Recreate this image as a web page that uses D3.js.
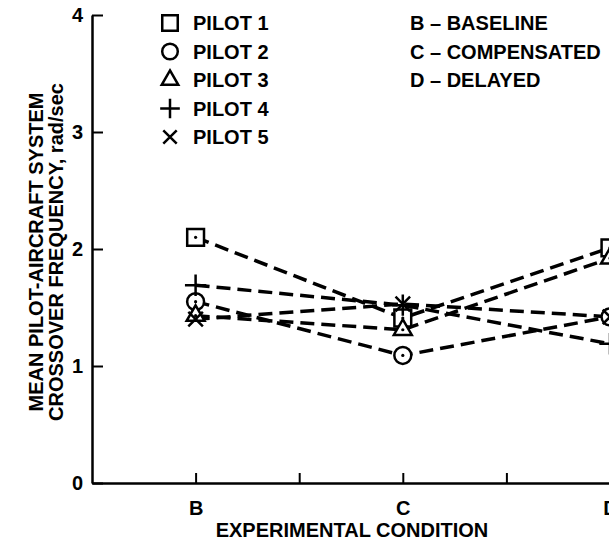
<!DOCTYPE html>
<html>
<head>
<meta charset="utf-8">
<script src="https://cdn.jsdelivr.net/npm/d3@7"></script>
<style>
  body { margin: 0; background: #fff; }
  text { font-family: "Liberation Sans", Arial, sans-serif; font-weight: bold; fill: #000; }
</style>
</head>
<body>
<svg width="609" height="541"></svg>
<script>
// conditions on the x axis (position on a 0..5 scale)
var conditions = ["B", "C", "D"];
var conditionPos = [1, 3, 5];
var xTicks = [1, 2, 3, 4, 5];
var yTicks = [0, 1, 2, 3, 4];

var pilots = ["PILOT 1", "PILOT 2", "PILOT 3", "PILOT 4", "PILOT 5"];
var pilot1 = [2.10, 1.41, 2.01];
var pilot2 = [1.55, 1.09, 1.42];
var pilot3 = [1.43, 1.31, 1.92];
var pilot4 = [1.69, 1.52, 1.19];
var pilot5 = [1.40, 1.53, 1.42];

var conditionNames = ["B \u2013 BASELINE", "C \u2013 COMPENSATED", "D \u2013 DELAYED"];

var svg = d3.select("svg"),
    width = +svg.attr("width"),
    height = +svg.attr("height");

var x = d3.scaleLinear().domain([0, 5]).range([92, 610]);
var y = d3.scaleLinear().domain([0, 4]).range([483, 15]);

var fs = 20;

// axes
var yAxis = svg.append("g")
  .attr("transform", "translate(" + x(0) + ",0)")
  .call(d3.axisLeft(y).tickValues(yTicks).tickFormat(d3.format("d"))
    .tickSize(-11).tickSizeOuter(0).tickPadding(9));
yAxis.selectAll("text").style("font-size", fs + "px");

var xAxis = svg.append("g")
  .attr("transform", "translate(0," + y(0) + ")")
  .call(d3.axisBottom(x).tickValues(xTicks)
    .tickFormat(function(d) { var i = conditionPos.indexOf(d); return i < 0 ? "" : conditions[i]; })
    .tickSize(-10).tickSizeOuter(0).tickPadding(18));
xAxis.selectAll("text").style("font-size", fs + "px");

svg.selectAll(".domain").attr("stroke", "#000").attr("stroke-width", 2.5);
svg.selectAll(".tick line").attr("stroke", "#000").attr("stroke-width", 2);

// axis titles
svg.append("text")
  .attr("x", 352).attr("y", 537)
  .attr("text-anchor", "middle")
  .style("font-size", fs + "px")
  .text("EXPERIMENTAL CONDITION");

var ylab = svg.append("text")
  .attr("transform", "translate(43,252) rotate(-90)")
  .attr("text-anchor", "middle")
  .style("font-size", fs + "px");
ylab.append("tspan").attr("x", 0).attr("dy", 0).text("MEAN PILOT-AIRCRAFT SYSTEM");
ylab.append("tspan").attr("x", 0).attr("dy", 20)
  .text("CROSSOVER FREQUENCY, ")
  .append("tspan").text("rad/sec");

// symbols
var symbols = [d3.symbolSquare2, d3.symbolCircle, d3.symbolTriangle2, d3.symbolPlus, d3.symbolTimes];
var sizes = [360, 225, 230, 150, 140];
var filled = [true, true, true, false, false];

var series = [pilot1, pilot2, pilot3, pilot4, pilot5].map(function(v, i) {
  return { name: pilots[i], idx: i, values: v.map(function(d, j) { return { pos: conditionPos[j], value: d }; }) };
});

var line = d3.line()
  .x(function(d) { return x(d.pos); })
  .y(function(d) { return y(d.value); });

svg.append("g").selectAll("path")
  .data(series)
  .enter().append("path")
  .attr("d", function(d) { return line(d.values); })
  .attr("fill", "none")
  .attr("stroke", "#000")
  .attr("stroke-width", 3.5)
  .attr("stroke-dasharray", "14,7");

var pts = svg.append("g").selectAll("g")
  .data(series)
  .enter().append("g");

pts.selectAll("path")
  .data(function(d) { return d.values.map(function(v) { return { s: d.idx, pos: v.pos, value: v.value }; }); })
  .enter().append("path")
  .attr("transform", function(d) { return "translate(" + x(d.pos) + "," + y(d.value) + ")"; })
  .attr("d", function(d) { return d3.symbol(symbols[d.s], sizes[d.s])(); })
  .attr("fill", function(d) { return filled[d.s] ? "#fff" : "none"; })
  .attr("stroke", "#000")
  .attr("stroke-width", 2.5);

pts.selectAll("circle")
  .data(function(d) { return filled[d.idx] ? d.values : []; })
  .enter().append("circle")
  .attr("cx", function(d) { return x(d.pos); })
  .attr("cy", function(d) { return y(d.value); })
  .attr("r", 1.6)
  .attr("fill", "#000");

// legend: pilots
var legend = svg.append("g").selectAll("g")
  .data(pilots)
  .enter().append("g")
  .attr("transform", function(d, i) { return "translate(170," + (23 + i * 28.5) + ")"; });

legend.append("path")
  .attr("d", function(d, i) { return d3.symbol(symbols[i], sizes[i] * 0.85)(); })
  .attr("fill", "none")
  .attr("stroke", "#000")
  .attr("stroke-width", 2.5);

legend.append("text")
  .attr("x", 23).attr("dy", "0.36em")
  .style("font-size", fs + "px")
  .text(function(d) { return d; });

// legend: conditions
svg.append("g").selectAll("text")
  .data(conditionNames)
  .enter().append("text")
  .attr("x", 410)
  .attr("y", function(d, i) { return 23 + i * 28.5; })
  .attr("dy", "0.36em")
  .style("font-size", fs + "px")
  .text(function(d) { return d; });
</script>
</body>
</html>
